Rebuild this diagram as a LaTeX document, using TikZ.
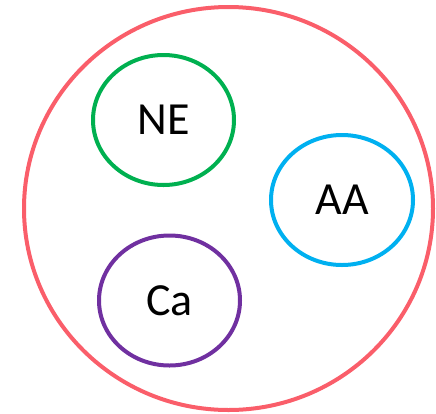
\documentclass[tikz,border=0pt]{standalone}
\usepackage{fontspec}
\setmainfont{Carlito}
\usepackage{tikz}
\usetikzlibrary{shapes.geometric}
\definecolor{outerred}{RGB}{250,94,106}
\definecolor{negreen}{RGB}{0,176,80}
\definecolor{aablue}{RGB}{0,176,240}
\definecolor{capurple}{RGB}{112,48,160}
\tikzstyle{ring} = [draw, ellipse, line width=4pt, inner sep=0pt, text centered, font=\fontsize{46}{46}\selectfont]
\tikzstyle{small} = [ring, minimum width=141pt, minimum height=130pt]

\begin{document}
\begin{tikzpicture}[x=1pt, y=-1pt]
        \useasboundingbox (0,0) rectangle (436,413);
        \node[ring, draw=outerred, minimum width=409pt, minimum height=403pt] (all) at (228.5,208.5) {};
        \node[small, draw=negreen] (ne) at (163.5,120) {NE};
        \node[small, draw=aablue, minimum width=142pt] (aa) at (342,200) {AA};
        \node[small, draw=capurple] (ca) at (169.5,300.5) {Ca};
    \end{tikzpicture}
\end{document}
